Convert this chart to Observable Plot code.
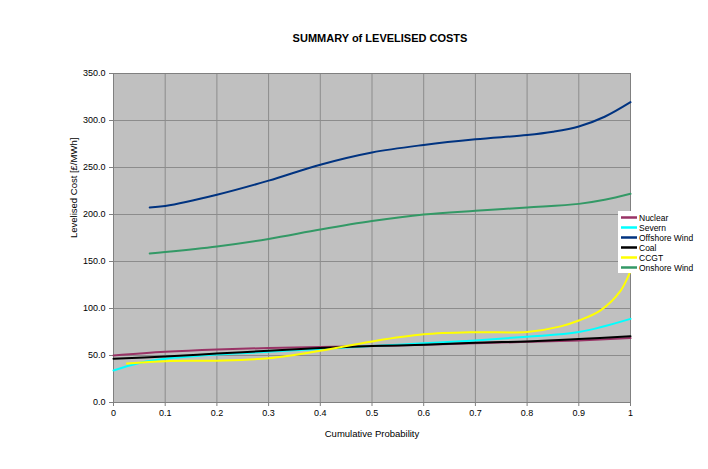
<!DOCTYPE html>
<html><head><meta charset="utf-8">
<script src="https://cdn.jsdelivr.net/npm/d3@7"></script>
<script src="https://cdn.jsdelivr.net/npm/@observablehq/plot@0.6"></script>
<style>body{margin:0;background:#fff;font-family:"Liberation Sans",Arial,sans-serif}</style>
</head><body><div id="chart"></div>
<script>
const seriesNames = ["Nuclear","Severn","Offshore Wind","Coal","CCGT","Onshore Wind"];
const seriesColors = ["#993366","#00ffff","#003380","#000000","#ffff00","#339966"];

const nuclearX = [0,0.1,0.2,0.3,0.4,0.5,0.6,0.7,0.8,0.9,1.0];
const nuclearY = [50,54,56.5,58,59,60,61.5,63,64.5,66,68.5];
const severnX = [0,0.05,0.1,0.2,0.3,0.4,0.5,0.6,0.7,0.8,0.9,1.0];
const severnY = [34,42,46.5,51,54,57,60,63,66,70,75,89];
const offshoreX = [0.07,0.1,0.2,0.3,0.4,0.5,0.6,0.7,0.8,0.85,0.9,0.95,1.0];
const offshoreY = [207.5,209,221,236,253,266,274,280,284.5,288,293.6,304,319.5];
const coalX = [0,0.1,0.2,0.3,0.4,0.5,0.6,0.7,0.8,0.9,1.0];
const coalY = [46.5,49,52,55,58,60,61.5,63.5,65,67.5,70.5];
const ccgtX = [0.026,0.1,0.2,0.3,0.4,0.5,0.6,0.7,0.8,0.865,0.9,0.942,0.981,1.0];
const ccgtY = [41.5,44,44.5,47,55,65,72.5,74.8,75,81,87.2,98,119,140];
const onshoreX = [0.07,0.1,0.2,0.3,0.4,0.5,0.6,0.7,0.8,0.9,0.95,1.0];
const onshoreY = [158.5,160,166,174,184,193,200,204,207.5,211.3,215.6,222];

const xTicks = [0,0.1,0.2,0.3,0.4,0.5,0.6,0.7,0.8,0.9,1];
const yTicks = [0,50,100,150,200,250,300,350];

const xs = [nuclearX,severnX,offshoreX,coalX,ccgtX,onshoreX];
const ys = [nuclearY,severnY,offshoreY,coalY,ccgtY,onshoreY];
const data = [];
seriesNames.forEach((s,i)=>xs[i].forEach((x,j)=>data.push({series:s,x,y:ys[i][j]})));
const xFmt = d=>d===0?"0":d===1?"1":d3.format(".1f")(d);

const chart = Plot.plot({
  width:708, height:469,
  marginLeft:113, marginRight:78, marginTop:73, marginBottom:67,
  style:{fontFamily:"'Liberation Sans',Arial,sans-serif",fontSize:"9px",background:"#fff",color:"#000"},
  x:{domain:[0,1], label:null},
  y:{domain:[0,350], label:null},
  color:{domain:seriesNames, range:seriesColors},
  marks:[
    Plot.frame({fill:"#c0c0c0"}),
    Plot.gridX(xTicks,{stroke:"#8c8c8c",strokeOpacity:1}),
    Plot.gridY(yTicks,{stroke:"#8c8c8c",strokeOpacity:1}),
    Plot.frame({stroke:"#808080"}),
    Plot.axisX(xTicks,{tickFormat:xFmt,label:null,tickSize:4,stroke:"#808080",tickPadding:3}),
    Plot.axisY(yTicks,{tickFormat:d3.format(".1f"),label:null,tickSize:4,stroke:"#808080",tickPadding:4}),
    Plot.line(data,{x:"x",y:"y",z:"series",stroke:"series",strokeWidth:2,curve:"catmull-rom"}),
    Plot.text(["SUMMARY of LEVELISED COSTS"],{frameAnchor:"top",dy:-39,dx:8,fontWeight:"bold",fontSize:11}),
    Plot.text(["Cumulative Probability"],{frameAnchor:"bottom",dy:34,fontSize:9.5}),
    Plot.text(["Levelised Cost [£/MWh]"],{frameAnchor:"left",dx:-40,rotate:-90,fontSize:9.5})
  ]
});
document.getElementById("chart").appendChild(chart);

// legend
const svg = d3.select(chart);
const lg = svg.append("g").attr("transform","translate(618,211)");
lg.append("rect").attr("width",82).attr("height",62).attr("fill","#fff").attr("stroke","none");
seriesNames.forEach((s,i)=>{
  const y = 6.5 + i*10;
  lg.append("line").attr("x1",3).attr("x2",19).attr("y1",y).attr("y2",y).attr("stroke",seriesColors[i]).attr("stroke-width",2.5);
  lg.append("text").attr("x",21).attr("y",y+3).attr("text-anchor","start").attr("font-size","8.5px").attr("font-family","'Liberation Sans',Arial,sans-serif").attr("fill","#000").text(s);
});
</script></body></html>
